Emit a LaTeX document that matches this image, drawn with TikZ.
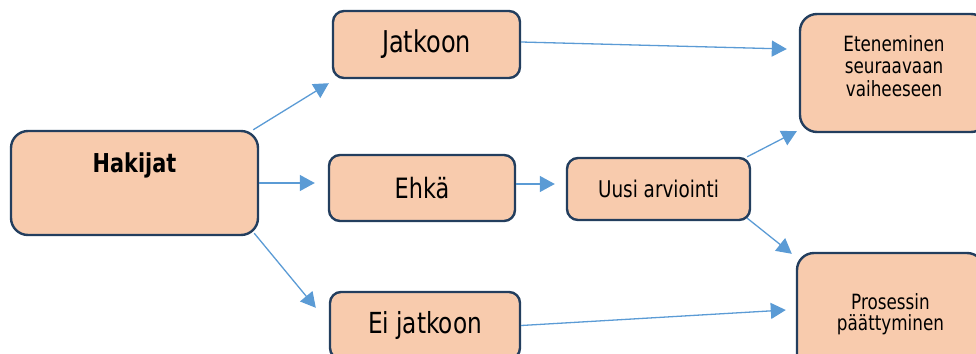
\documentclass[tikz,border=0pt]{standalone}
\usepackage{fontspec}
\setmainfont{DejaVu Sans}[FakeStretch=0.8]
\usetikzlibrary{arrows.meta}
\definecolor{boxfill}{HTML}{F8CBAD}
\definecolor{boxline}{HTML}{233E5E}
\definecolor{arrowblue}{HTML}{5B9BD5}
\begin{document}
\begin{tikzpicture}[x=1pt,y=-1pt,
  box/.style={draw=boxline, line width=2.4pt, fill=boxfill, rounded corners=11pt,
    inner sep=0pt, align=center, text=black},
  bigbox/.style={box, rounded corners=17pt},
  arr/.style={draw=arrowblue, line width=1.3pt,
    -{Triangle[length=15pt,width=16pt]}}]
\useasboundingbox (0,0) rectangle (976,353);
\begin{scope}
\clip (0,0) rectangle (976,353);
% boxes
\node[bigbox, minimum width=247pt, minimum height=104pt] (hak) at (134.5,183) {};
\node[font=\fontsize{26}{30}\selectfont\bfseries] (hakt) at (134.5,165) {Hakijat};
\node[box, minimum width=187pt, minimum height=67pt, font=\fontsize{30}{34}\selectfont] (jat) at (426.5,44.5) {Jatkoon};
\node[box, minimum width=186pt, minimum height=66pt, font=\fontsize{28}{32}\selectfont] (ehk) at (422,188) {Ehkä};
\node[box, minimum width=190pt, minimum height=67pt, font=\fontsize{29}{34}\selectfont] (eij) at (425,325.5) {Ei jatkoon};
\node[box, minimum width=183pt, minimum height=62pt, font=\fontsize{23}{27}\selectfont] (uus) at (658.5,189) {Uusi arviointi};
\node[bigbox, minimum width=188pt, minimum height=118pt] (ete) at (894,73) {};
\node[font=\fontsize{21}{22.5}\selectfont, align=center] (etet) at (894,66) {Eteneminen\\seuraavaan\\vaiheeseen};
\node[bigbox, minimum width=187pt, minimum height=118pt] (pro) at (890.5,312) {};
\node[font=\fontsize{21}{21}\selectfont, align=center] (prot) at (890.5,314) {Prosessin\\päättyminen};
\end{scope}
% connectors
\draw[arr] ([xshift=-6pt]hak.north east) -- ([xshift=-3pt,yshift=-4pt]jat.south west);
\draw[arr, shorten >=13pt] (hak.east) -- (ehk.west |- hak.east);
\draw[arr] ([xshift=-5pt,yshift=3pt]hak.south east) -- ([xshift=-13pt,yshift=-17pt]eij.north west);
\draw[arr] ([yshift=2.5pt]jat.east) -- ([xshift=-12pt,yshift=24pt]ete.west);
\draw[arr, shorten >=11pt] ([yshift=4pt]ehk.east) -- ([yshift=4pt]ehk.east -| uus.west);
\draw[arr] ([xshift=-4pt]uus.north east) -- ([xshift=-2pt,yshift=2pt]ete.south west);
\draw[arr] ([xshift=-4pt,yshift=3pt]uus.south east) -- ([xshift=-4pt,yshift=-2pt]pro.north west);
\draw[arr] (eij.east) -- ([xshift=-10pt,yshift=2pt]pro.west);
\end{tikzpicture}
\end{document}
